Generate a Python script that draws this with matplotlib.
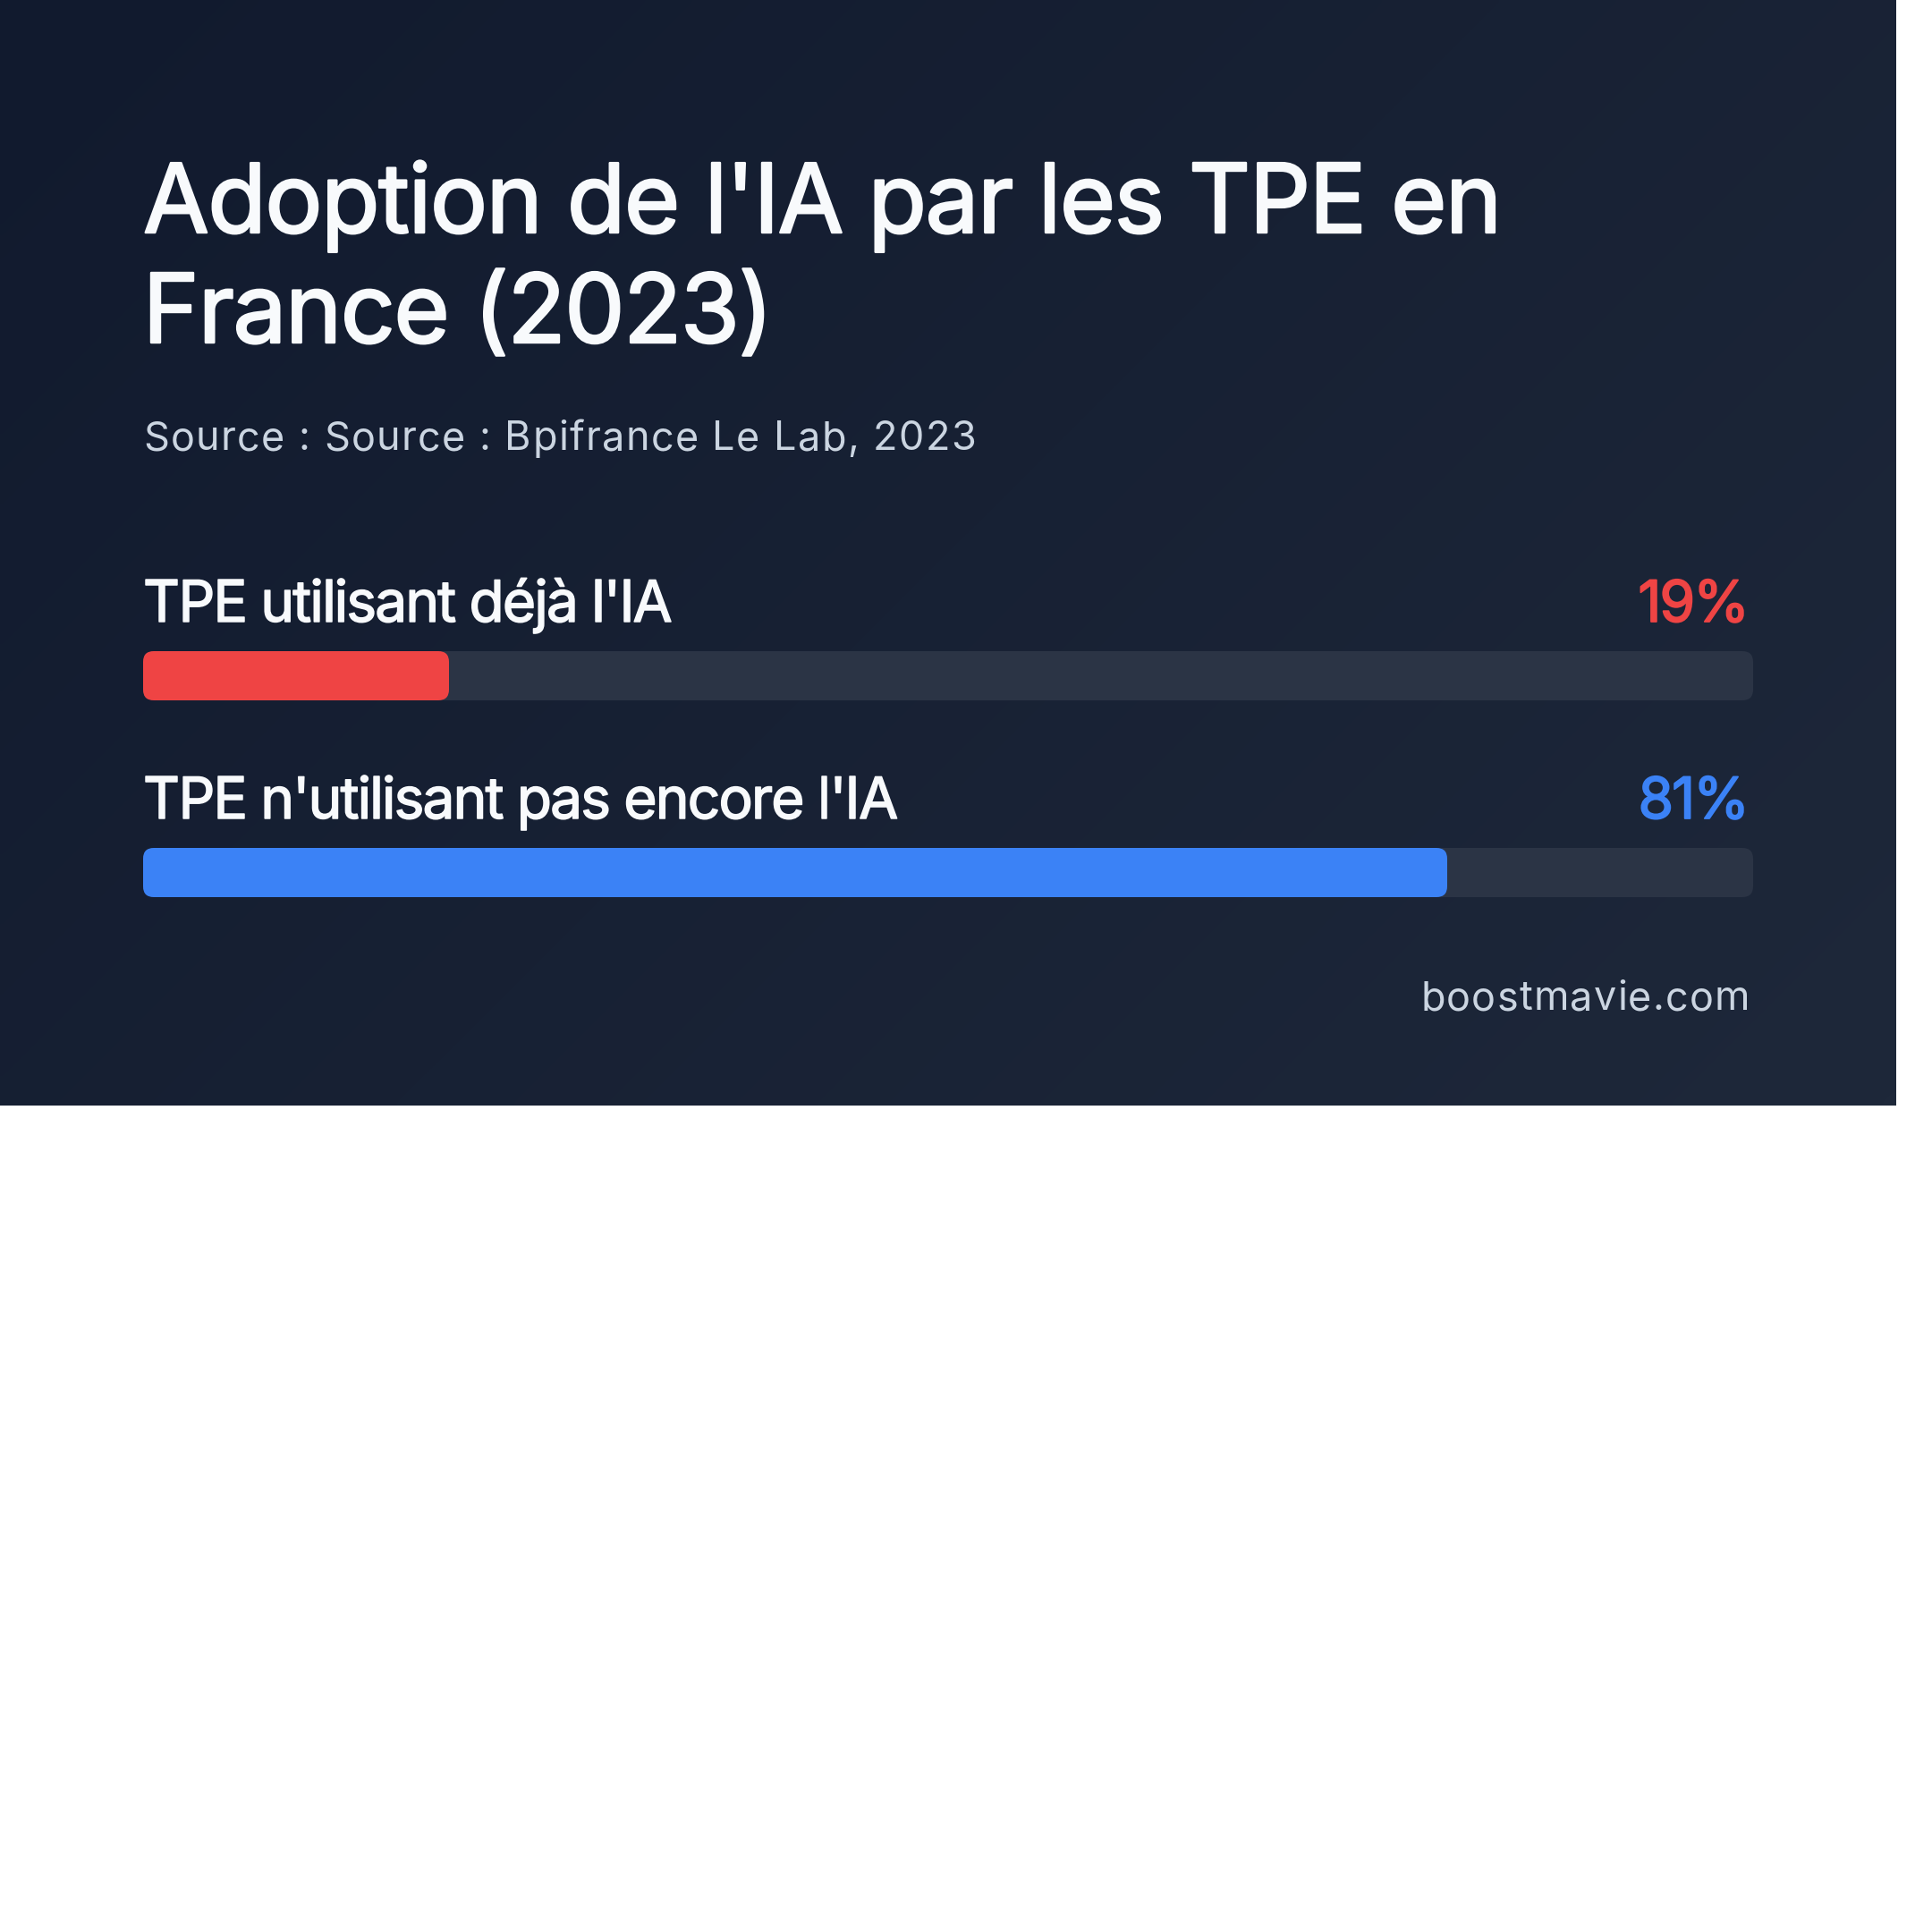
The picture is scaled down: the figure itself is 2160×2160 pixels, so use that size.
import numpy as np
import matplotlib.pyplot as plt
import matplotlib.patheffects as pe
from matplotlib import font_manager
from matplotlib.ft2font import FT2Font
from matplotlib.patches import FancyBboxPatch
from matplotlib.colors import LinearSegmentedColormap

# Data
title_lines = ["Adoption de l'IA par les TPE en", "France (2023)"]
source_text = "Source : Source : Bpifrance Le Lab, 2023"
categories = ["TPE utilisant déjà l'IA", "TPE n'utilisant pas encore l'IA"]
values = [19, 81]
bar_colors = ["#ef4444", "#3b82f6"]
footer = "boostmavie.com"

plt.rcParams['font.family'] = ['Inter', 'DejaVu Sans']

W = H = 2160
DPI = 100
PT = 72 / DPI  # px -> pt

font_path = font_manager.findfont(font_manager.FontProperties(family='Inter'))


def char_positions(s, size_px):
    # pen positions of each char (pixels), with kerning when available
    font = FT2Font(font_path)
    font.set_size(size_px * PT, DPI)
    pos, x, prev = [], 0.0, None
    for c in s:
        idx = font.get_char_index(ord(c))
        if prev is not None:
            try:
                x += font.get_kerning(prev, idx, 0) / 64
            except Exception:
                pass
        pos.append(x)
        g = font.load_char(ord(c))
        x += g.linearHoriAdvance / 65536
        prev = idx
    return pos, x


def tracked_text(ax, x, y, s, size_px, track, color, ha='left', stroke=0):
    pos, total = char_positions(s, size_px)
    pos = [p + i * track for i, p in enumerate(pos)]
    total += track * (len(s) - 1)
    x0 = x - total if ha == 'right' else x
    effects = [pe.withStroke(linewidth=stroke * PT, foreground=color)] if stroke else None
    for c, p in zip(s, pos):
        if c == ' ':
            continue
        ax.text(x0 + p, y, c, color=color, fontsize=size_px * PT,
                va='baseline', ha='left', path_effects=effects, zorder=5)


fig = plt.figure(figsize=(W / DPI, H / DPI), dpi=DPI, facecolor='white')
ax = fig.add_axes([0, 0, 1, 1])
ax.set_xlim(0, W)
ax.set_ylim(H, 0)
ax.axis('off')

# card background, diagonal gradient
card_w, card_h = 2120, 1236
gx, gy = np.meshgrid(np.linspace(0, 1, 400), np.linspace(0, 1, 240))
grad = (gx * card_w + gy * card_h) / (card_w + card_h)
cmap = LinearSegmentedColormap.from_list('bg', ['#111a2e', '#1e283a'])
ax.imshow(grad, cmap=cmap, extent=[0, card_w, card_h, 0], aspect='auto',
          interpolation='bicubic', zorder=0)

left = 160
track_w = 1800
right = left + track_w

# title
for i, line in enumerate(title_lines):
    tracked_text(ax, left, 260 + i * 123, line, 107, -1.5, '#f8fafc', stroke=2.4)

tracked_text(ax, left, 503, source_text, 45, 1.4, '#cbd5e1')

# bars
row_y = [695, 915]
bar_h = 55
for cat, val, col, y in zip(categories, values, bar_colors, row_y):
    tracked_text(ax, left, y, cat, 64, -1.85, '#f8fafc', stroke=1.5)
    tracked_text(ax, right - 4, y, f"{val}%", 64, -2, col, ha='right', stroke=1.8)
    top = y + 33
    track = FancyBboxPatch((left, top), track_w, bar_h,
                           boxstyle='round,pad=0,rounding_size=12',
                           fc='#2b3445', ec='none', zorder=2)
    ax.add_patch(track)
    fill = FancyBboxPatch((left, top), track_w * val / 100, bar_h,
                          boxstyle='round,pad=0,rounding_size=12',
                          fc=col, ec='none', zorder=3)
    ax.add_patch(fill)

tracked_text(ax, right - 4, 1129, footer, 45, 1.2, '#cbd5e1', ha='right')

fig.savefig('out.png', dpi=DPI, facecolor='white')
